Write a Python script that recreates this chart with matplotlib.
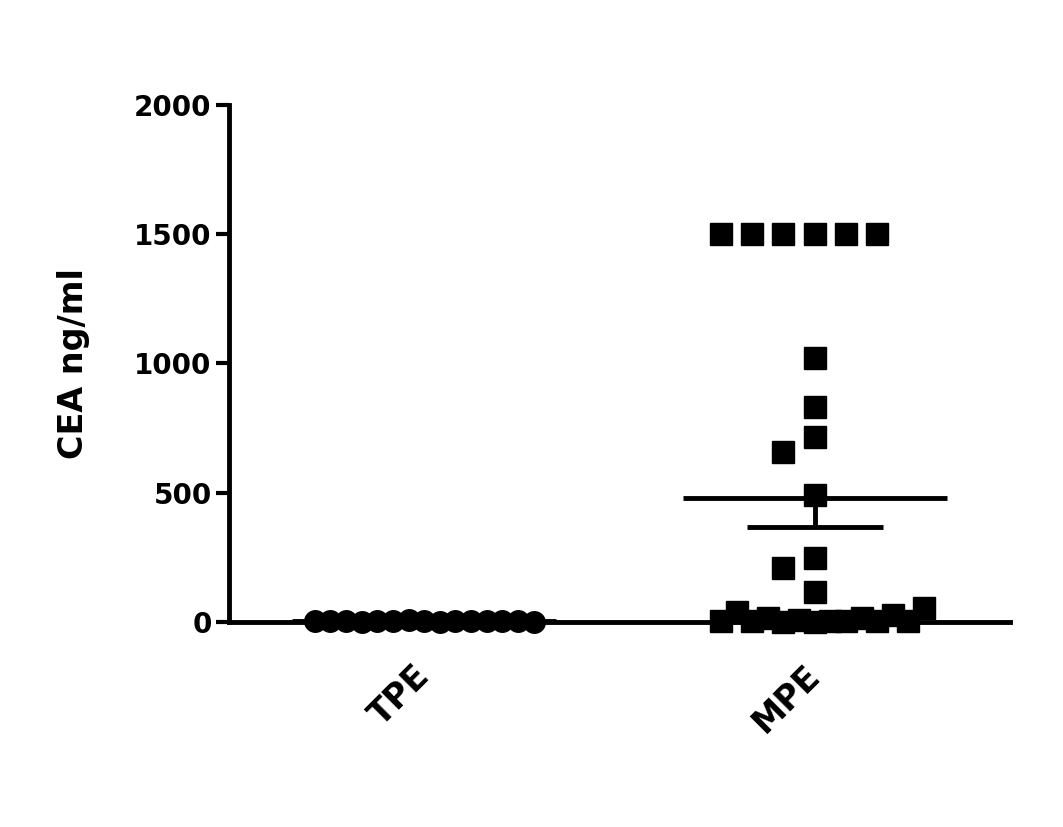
import numpy as np
import matplotlib
matplotlib.use("Agg")
import matplotlib.pyplot as plt

# data (CEA, ng/ml)
groups = ["TPE", "MPE"]
tpe = [3, 2, 5, 1, 4, 2, 6, 3, 1, 2, 4, 3, 5, 2, 1]
mpe_high = [1500, 1500, 1500, 1500, 1500, 1500, 1020, 830, 658, 716, 491, 209, 248, 116]
mpe_low = [2, 40, 3, 15, 1, 8, 0.5, 5, 2, 15, 4, 27, 3, 53]
mpe = mpe_high + mpe_low

plt.rcParams['font.family'] = ['DejaVu Sans']
plt.rcParams['font.weight'] = 'bold'

fig = plt.figure(figsize=(10.63, 8.27), dpi=100)
ax = fig.add_axes([0.2154, 0.2479, 0.7347, 0.6252])
ax.set_xlim(-0.5, 1.5)
ax.set_ylim(0, 2000)

STEP = 0.08          # horizontal slot width (data units)
ROW = 89             # values closer than one marker height share a row


def scatter_x(vals, center):
    # prism-like column scatter: points of similar value are spread sideways
    vals = np.asarray(vals, dtype=float)
    order = np.argsort(vals, kind="stable")
    rows, cur, start = [], [], None
    for i in order:
        if start is None or vals[i] - start >= ROW:
            if cur:
                rows.append(cur)
            cur, start = [i], vals[i]
        else:
            cur.append(i)
    rows.append(cur)
    xs = np.zeros(len(vals))
    for r in rows:
        r = sorted(r)
        n = len(r)
        if n * STEP <= 0.5:
            for k, i in enumerate(r):
                xs[i] = center + (k - n // 2) * STEP
        else:
            for k, i in enumerate(r):
                xs[i] = center + (k - (n - 1) // 2) * STEP / 2
    return xs


for gi, (vals, mk, ms) in enumerate([(tpe, "o", 15.5), (mpe, "s", 15.5)]):
    xs = scatter_x(vals, gi)
    ax.plot(xs, vals, linestyle="none", marker=mk, markersize=ms,
            color="black", markeredgewidth=1, clip_on=False, zorder=3)
    m = np.mean(vals)
    sem = np.std(vals, ddof=1) / np.sqrt(len(vals))
    ax.hlines(m, gi - 0.338, gi + 0.338, color="black", lw=3.5, zorder=4)
    ax.vlines(gi, m - sem, m, color="black", lw=3.5, zorder=4)
    ax.hlines(m - sem, gi - 0.174, gi + 0.174, color="black", lw=3.5, zorder=4)

for s in ["top", "right"]:
    ax.spines[s].set_visible(False)
for s in ["left", "bottom"]:
    ax.spines[s].set_linewidth(3.5)

ax.set_yticks([0, 500, 1000, 1500, 2000])
ax.tick_params(axis="y", length=9.5, width=3, labelsize=20, pad=3)
ax.set_xticks([0, 1])
ax.set_xticklabels(groups, rotation=45, ha="right", va="center",
                   rotation_mode="anchor", fontsize=24, fontweight="bold")
ax.tick_params(axis="x", length=5, width=2, pad=30)
for lab in ax.get_yticklabels():
    lab.set_fontweight("bold")

ax.set_ylabel("CEA ng/ml", fontsize=24, fontweight="bold", labelpad=32)

fig.savefig("out.png", dpi=100)
